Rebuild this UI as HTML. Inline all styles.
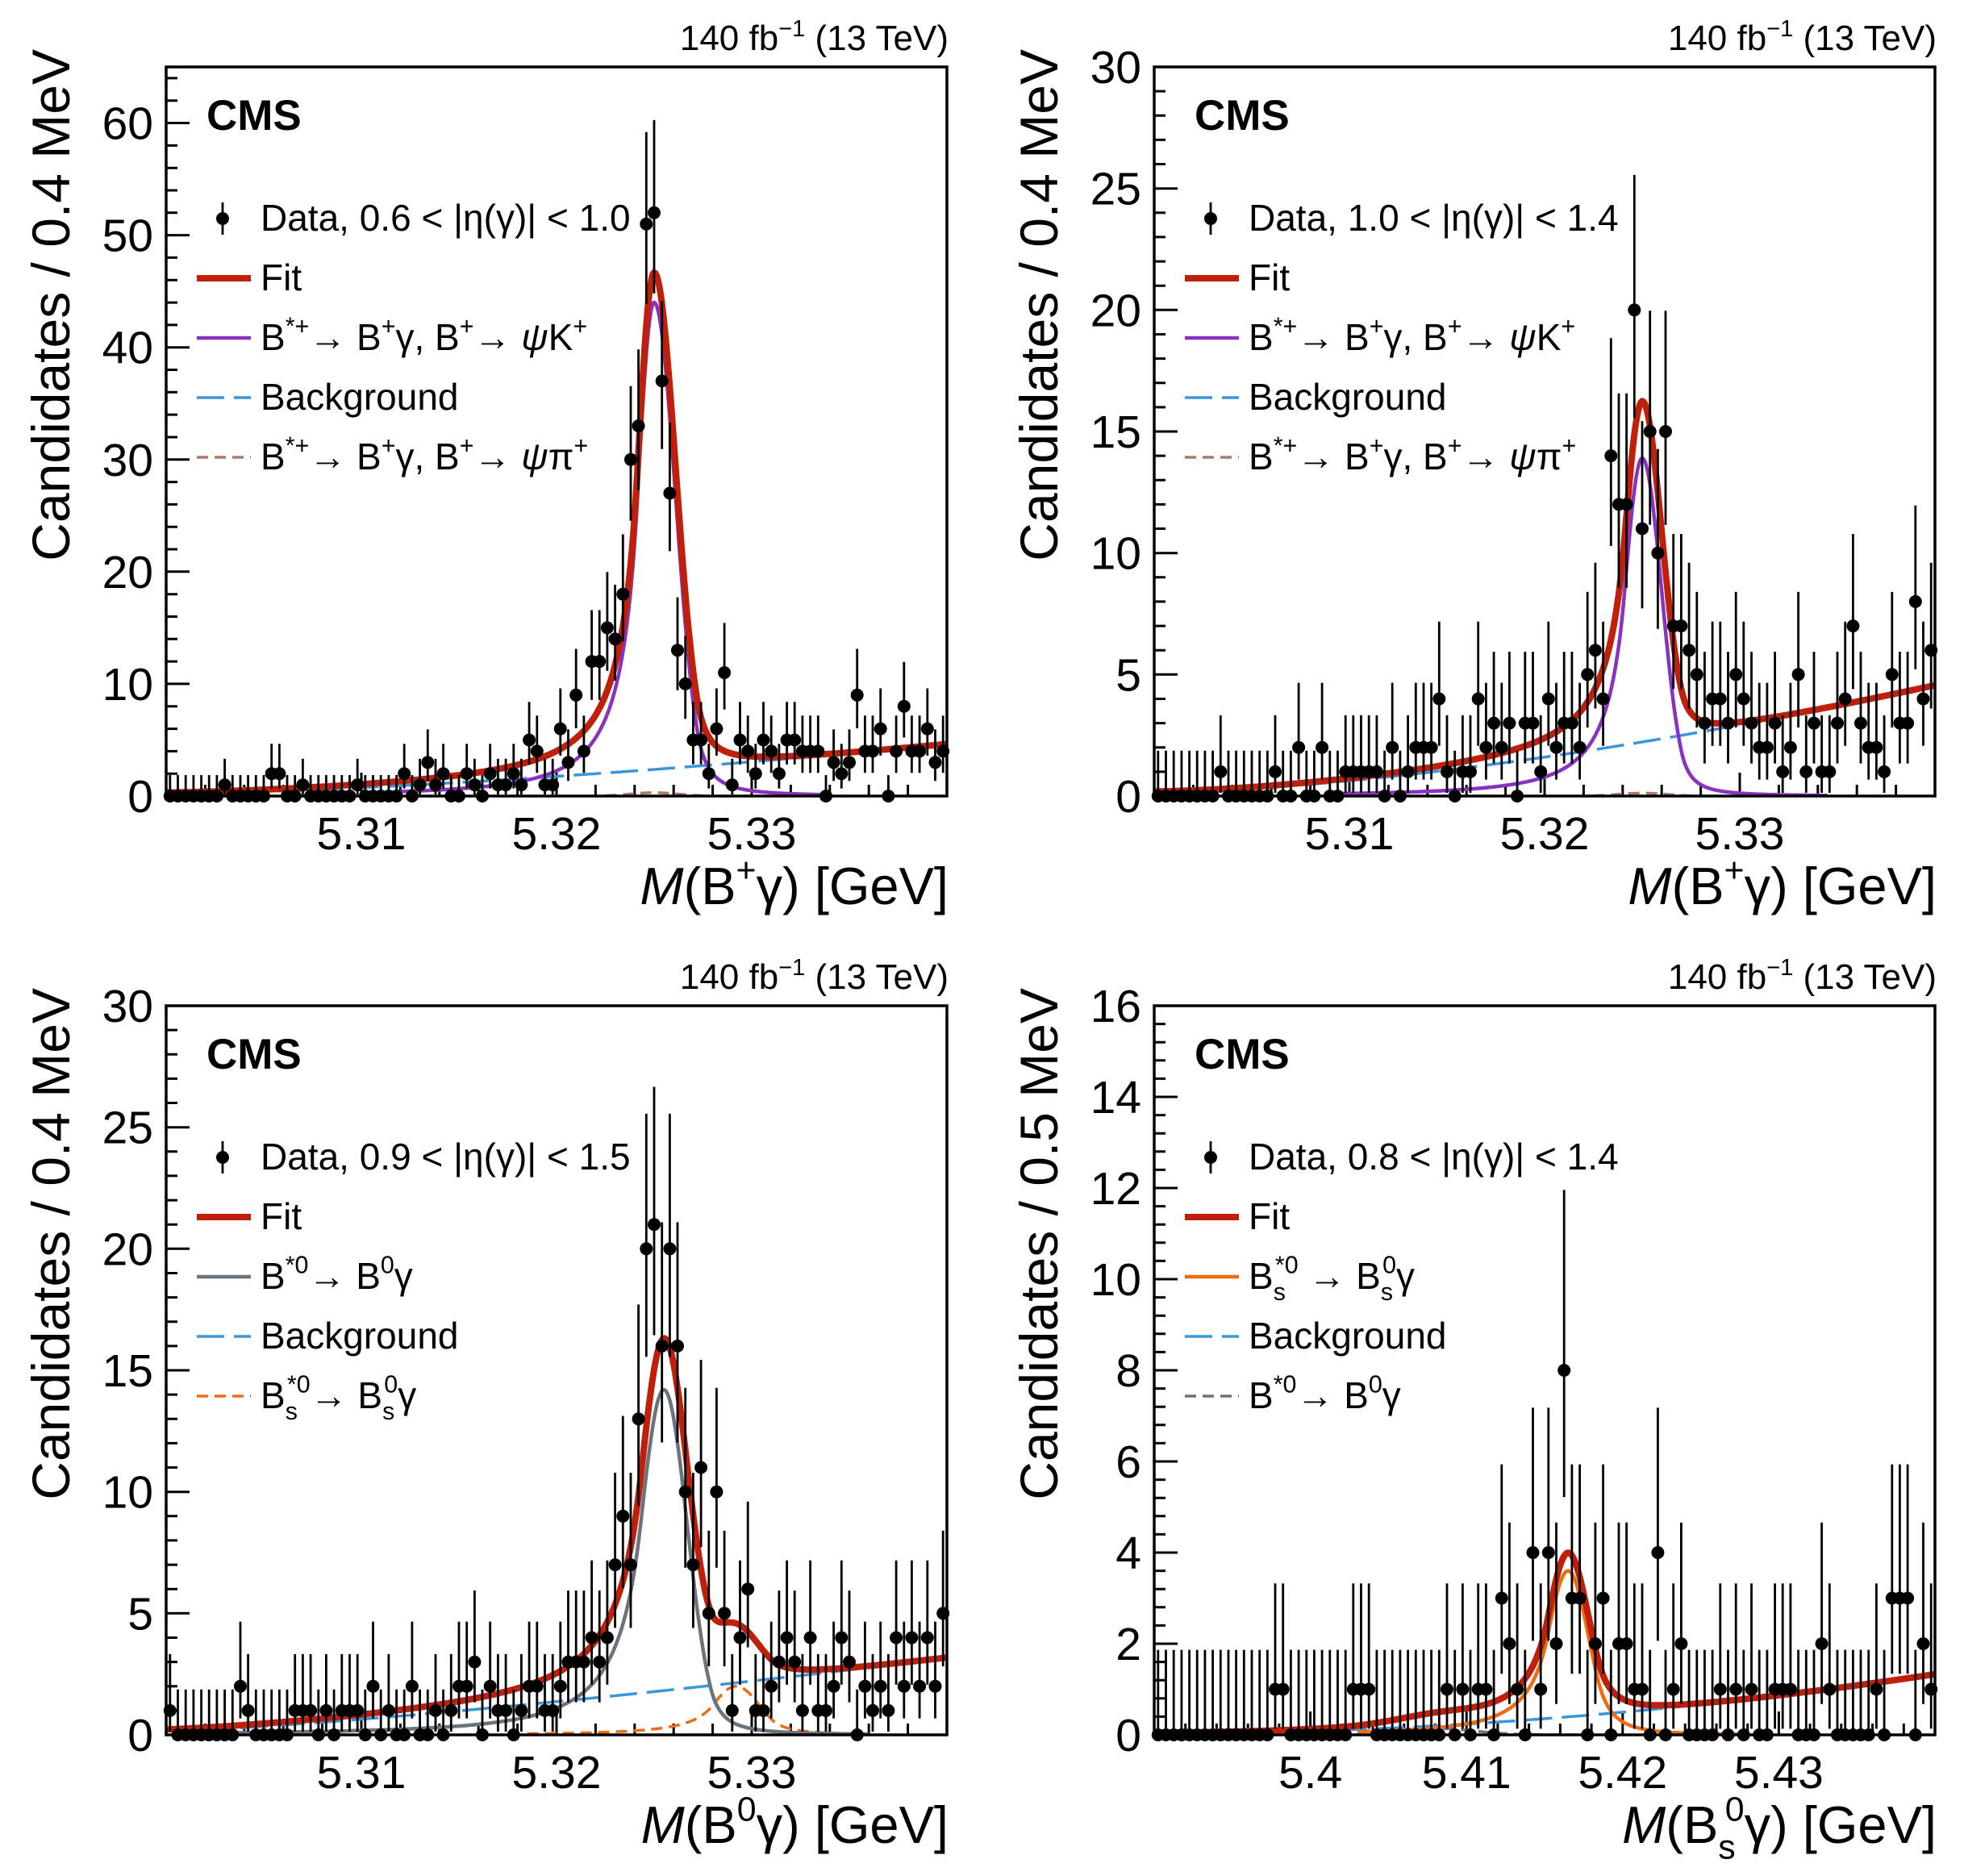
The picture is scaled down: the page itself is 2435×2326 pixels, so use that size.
<!DOCTYPE html>
<html><head><meta charset="utf-8">
<style>html,body{margin:0;padding:0;background:#fff}svg{display:block}</style>
</head><body>
<svg id="s" xmlns="http://www.w3.org/2000/svg" width="2435" height="2326" viewBox="0 0 2435 2326" font-family="'Liberation Sans', Arial, sans-serif"></svg>
<script>
const W=968,H=904;
const RED='#c0200a',PUR='#8a32c0',BLU='#3a96dc',BRN='#b07868',GRY='#6b737c',ORG='#ef6c12';
function cb(x,p){const m=p.m;let t;
 if(x<m){t=(x-m)/p.sL; if(t<-p.aL){const A=Math.pow(p.nL/p.aL,p.nL)*Math.exp(-p.aL*p.aL/2),B=p.nL/p.aL-p.aL;return p.A*A*Math.pow(B-t,-p.nL);} }
 else{t=(x-m)/p.sR; if(t>p.aR){const A=Math.pow(p.nR/p.aR,p.nR)*Math.exp(-p.aR*p.aR/2),B=p.nR/p.aR-p.aR;return p.A*A*Math.pow(B+t,-p.nR);} }
 return p.A*Math.exp(-t*t/2);}
function arr(o,shift){const a=new Array(100).fill(0);for(const k in o){const i=+k+(shift||0);if(i<100)a[i]=o[k];}return a;}
function rich(parts,size){let cur=0,out='';for(const p of parts){const t=p[0],k=p[1]||'',dx=p[2];let off=0,fs=size,st='';
 if(k.includes('sup')){off=-size*0.42;fs=size*0.66}
 if(k.includes('sub')){off=size*0.3;fs=size*0.66}
 if(k.includes('it'))st=' font-style="italic"';
 out+=`<tspan dy="${(off-cur).toFixed(1)}" font-size="${fs.toFixed(1)}"${dx!==undefined?` dx="${dx}"`:''}${st}>${t}</tspan>`;cur=off;}return out;}
const Bstp=[['B'],['*+','sup'],['→ B'],['+','sup'],['γ, B'],['+','sup'],['→ '],['ψ','it']];
const panels=[
{ox:206,oy:83,x0:5.30,x1:5.34,ymax:65,maj:10,min:2,xt:[5.31,5.32,5.33],ytitle:'Candidates / 0.4 MeV',
 xtitle:[['M','it'],['(B'],['+','sup'],['γ) [GeV]']],
 data:arr({7:1,13:2,14:2,17:1,24:1,30:2,32:1,33:3,34:1,35:2,38:2,39:1,41:2,42:1,43:1,44:2,45:1,46:5,47:4,48:1,49:1,50:6,51:3,52:9,53:4,54:12,55:12,56:15,57:14,58:18,59:30,60:33,61:51,62:52,63:37,64:27,65:13,66:10,67:5,68:5,69:2,70:6,71:11,72:1,73:5,74:4,75:2,76:5,77:4,78:2,79:5,80:5,81:4,82:4,83:4,85:3,86:2,87:3,88:9,89:4,90:4,91:6,93:4,94:8,95:4,96:4,97:6,98:3,99:4}),
 bg:x=>{const t=(x-5.30)/0.04;return 0.2+4.4*Math.pow(t,1.5)},
 sig:{m:5.3250,sL:0.00085,sR:0.0011,aL:1,nL:2,aR:2,nR:2,A:44},sigR:[5.312,5.3335],sigC:PUR,
 ext:{f:x=>0.3*Math.exp(-0.5*Math.pow((x-5.325)/0.0012,2)),r:[5.3225,5.3275],c:BRN},
 leg:[[['Data, 0.6 &lt; |η(γ)| &lt; 1.0']],[['Fit']],Bstp.concat([['K'],['+','sup']]),[['Background']],Bstp.concat([['π'],['+','sup']])],
 legStyle:[PUR,false,BRN,true]},
{ox:1431,oy:83,x0:5.30,x1:5.34,ymax:30,maj:5,min:1,xt:[5.31,5.32,5.33],ytitle:'Candidates / 0.4 MeV',
 xtitle:[['M','it'],['(B'],['+','sup'],['γ) [GeV]']],
 data:arr({7:1,14:1,17:2,20:2,23:1,24:1,25:1,26:1,27:1,29:2,31:1,32:2,33:2,34:2,35:4,36:1,38:1,39:1,40:4,41:2,42:3,43:2,44:3,46:3,47:3,48:1,49:4,50:2,51:3,52:3,53:2,54:5,55:6,56:4,57:14,58:12,59:12,60:20,61:11,62:15,63:10,64:15,65:7,66:7,67:6,68:5,69:3,70:4,71:4,72:3,73:5,74:4,75:3,76:2,77:2,78:3,79:1,80:2,81:5,82:1,83:3,84:1,85:1,86:3,87:4,88:7,89:3,90:2,91:2,92:1,93:5,94:3,95:3,96:8,97:4,98:6},1),
 bg:x=>{const t=(x-5.30)/0.04;return 0.15+4.4*Math.pow(t,1.6)},
 sig:{m:5.3250,sL:0.0009,sR:0.001,aL:1,nL:2,aR:2,nR:2,A:13.9},sigR:[5.3095,5.3345],sigC:PUR,
 ext:{f:x=>0.12*Math.exp(-0.5*Math.pow((x-5.325)/0.0012,2)),r:[5.3225,5.3275],c:BRN},
 leg:[[['Data, 1.0 &lt; |η(γ)| &lt; 1.4']],[['Fit']],Bstp.concat([['K'],['+','sup']]),[['Background']],Bstp.concat([['π'],['+','sup']])],
 legStyle:[PUR,false,BRN,true]},
{ox:206,oy:1247,x0:5.30,x1:5.34,ymax:30,maj:5,min:1,xt:[5.31,5.32,5.33],ytitle:'Candidates / 0.4 MeV',
 xtitle:[['M','it'],['(B'],['0','sup'],['γ) [GeV]']],
 data:arr({0:1,9:2,10:1,16:1,17:1,18:1,20:1,22:1,23:1,24:1,26:2,28:1,31:2,34:1,36:1,37:2,38:2,39:3,41:2,42:1,43:1,45:1,46:2,47:2,48:1,49:1,50:2,51:3,52:3,53:3,54:4,55:3,56:4,57:7,58:9,59:7,60:13,61:20,62:21,63:16,64:20,65:16,66:10,67:7,68:11,69:5,70:10,71:5,72:1,73:4,74:6,75:1,76:1,77:2,78:3,79:4,80:3,81:1,82:4,83:1,84:1,85:2,86:4,87:3,89:2,90:1,91:2,92:1,93:4,94:2,95:4,96:2,97:4,98:2,99:5}),
 bg:x=>{const t=(x-5.30)/0.04;return 0.15+3.0*Math.pow(t,1.3)},
 sig:{m:5.3255,sL:0.0012,sR:0.0012,aL:1,nL:2,aR:2,nR:2,A:14.2},sigR:[5.3035,5.3360],sigC:GRY,
 ext:{f:x=>cb(x,{m:5.3292,sL:0.0012,sR:0.0012,aL:1,nL:2,aR:1.5,nR:2,A:2.0}),r:[5.3185,5.3345],c:ORG},
 leg:[[['Data, 0.9 &lt; |η(γ)| &lt; 1.5']],[['Fit']],[['B'],['*0','sup'],['→ B'],['0','sup'],['γ']],[['Background']],[['B'],['s','sub'],['*0','sup',-13],['→ B'],['s','sub'],['0','sup',-13],['γ']]],
 legStyle:[GRY,false,ORG,true]},
{ox:1431,oy:1247,x0:5.39,x1:5.44,ymax:16,maj:2,min:0.4,xt:[5.40,5.41,5.42,5.43],xtl:['5.4','5.41','5.42','5.43'],ytitle:'Candidates / 0.5 MeV',
 xtitle:[['M','it'],['(B'],['s','sub'],['0','sup',-13],['γ) [GeV]']],
 data:arr({15:1,16:1,25:1,26:1,27:1,37:1,39:1,41:1,42:1,44:3,45:2,46:1,48:4,49:1,50:4,51:2,52:8,53:3,54:3,56:2,57:3,59:2,60:2,61:1,62:1,64:4,66:1,67:2,72:1,74:1,76:1,79:1,80:1,81:1,85:2,86:1,92:1,94:3,95:3,96:3,98:2,99:1}),
 bg:x=>{const t=(x-5.39)/0.05;return 0.03+1.3*Math.pow(t,2)},
 sig:{m:5.4165,sL:0.0013,sR:0.0013,aL:1,nL:2,aR:1.5,nR:3,A:3.6},sigR:[5.403,5.4275],sigC:ORG,
 ext:{f:x=>0.14*Math.exp(-0.5*Math.pow((x-5.408)/0.0025,2)),r:[5.404,5.418],c:GRY},
 leg:[[['Data, 0.8 &lt; |η(γ)| &lt; 1.4']],[['Fit']],[['B'],['s','sub'],['*0','sup',-13],[' → B'],['s','sub'],['0','sup',-13],['γ']],[['Background']],[['B'],['*0','sup'],['→ B'],['0','sup'],['γ']]],
 legStyle:[ORG,false,GRY,true]}
];
let out='';
panels.forEach((P,pi)=>{
 const L=P.ox,T=P.oy,R=L+W,B=T+H;
 const X=x=>L+(x-P.x0)/(P.x1-P.x0)*W, Y=y=>B-y/P.ymax*H;
 out+=`<clipPath id="c${pi}"><rect x="${L}" y="${T}" width="${W}" height="${H}"/></clipPath>`;
 let tk='';
 for(let v=0;v<=P.ymax+1e-9;v+=P.min){const y=Y(v);const maj=Math.abs(v/P.maj-Math.round(v/P.maj))<1e-6;tk+=`M${L} ${y.toFixed(1)}h${maj?29:14}`;
  if(maj)out+=`<text x="${L-16}" y="${(y+20).toFixed(1)}" font-size="57" text-anchor="end">${Math.round(v)}</text>`;}
 const nx=Math.round((P.x1-P.x0)/0.002);
 for(let j=1;j<nx;j++){const x=X(P.x0+j*0.002);const maj=j%5==0;tk+=`M${x.toFixed(1)} ${B}v-${maj?29:14}`;}
 out+=`<path d="${tk}" stroke="#000" stroke-width="3" fill="none"/>`;
 P.xt.forEach((v,k)=>{out+=`<text x="${X(v).toFixed(1)}" y="${B+66}" font-size="57" text-anchor="middle">${P.xtl?P.xtl[k]:v.toFixed(2)}</text>`;});
 out+=`<text transform="translate(${L-120},${T-22}) rotate(-90)" font-size="66" text-anchor="end">${P.ytitle}</text>`;
 out+=`<text x="${R+2}" y="${B+134}" font-size="65" text-anchor="end">${rich(P.xtitle,65)}</text>`;
 out+=`<text x="${R+2}" y="${T-21}" font-size="44" text-anchor="end">140 fb<tspan dy="-17" font-size="29">−1</tspan><tspan dy="17"> (13 TeV)</tspan></text>`;
 out+=`<text x="${L+50}" y="${T+78}" font-size="53" font-weight="bold">CMS</text>`;
 const path=(f,a,b)=>{let d='';const n=600;for(let k=0;k<=n;k++){const x=a+(b-a)*k/n;d+=(k?'L':'M')+X(x).toFixed(1)+' '+Y(f(x)).toFixed(1);}return d;};
 let cv=`<g clip-path="url(#c${pi})" fill="none">`;
 cv+=`<path d="${path(P.bg,P.x0,P.x1)}" stroke="${BLU}" stroke-width="3.5" stroke-dasharray="34 12"/>`;
 cv+=`<path d="${path(P.ext.f,P.ext.r[0],P.ext.r[1])}" stroke="${P.ext.c}" stroke-width="3.5" stroke-dasharray="14 8"/>`;
 cv+=`<path d="${path(x=>cb(x,P.sig),P.sigR[0],P.sigR[1])}" stroke="${P.sigC}" stroke-width="4.5"/>`;
 const fit=x=>P.bg(x)+cb(x,P.sig)+P.ext.f(x);
 cv+=`<path d="${path(fit,P.x0,P.x1)}" stroke="${RED}" stroke-width="8"/>`;
 cv+='</g>';out+=cv;
 let eb='',dots='';
 const bw=(P.x1-P.x0)/100;
 P.data.forEach((n,i)=>{const x=X(P.x0+(i+0.5)*bw);const hi=n+1+Math.sqrt(n+0.75);const lo=n>0?Math.max(0,n-Math.sqrt(n-0.25)):0;
  eb+=`M${x.toFixed(1)} ${Y(lo).toFixed(1)}V${Y(hi).toFixed(1)}`;dots+=`<circle cx="${x.toFixed(1)}" cy="${Y(n).toFixed(1)}" r="8"/>`;});
 out+=`<path d="${eb}" stroke="#000" stroke-width="2.8"/><g fill="#000">${dots}</g>`;
 out+=`<rect x="${L}" y="${T}" width="${W}" height="${H}" fill="none" stroke="#000" stroke-width="3.5"/>`;
 const lx=L+117;const rows=[203,277,351,425,499];
 P.leg.forEach((it,k)=>{const by=T+rows[k],cy=by-15;
  if(k==0){out+=`<line x1="${L+70}" x2="${L+70}" y1="${cy-20}" y2="${cy+20}" stroke="#000" stroke-width="2.8"/><circle cx="${L+70}" cy="${cy}" r="8"/>`;}
  else if(k==1){out+=`<line x1="${L+38}" x2="${L+105}" y1="${cy}" y2="${cy}" stroke="${RED}" stroke-width="8"/>`;}
  else if(k==2){out+=`<line x1="${L+38}" x2="${L+105}" y1="${cy}" y2="${cy}" stroke="${P.legStyle[0]}" stroke-width="4.5"/>`;}
  else if(k==3){out+=`<line x1="${L+38}" x2="${L+105}" y1="${cy}" y2="${cy}" stroke="${BLU}" stroke-width="3.5" stroke-dasharray="34 12"/>`;}
  else {out+=`<line x1="${L+38}" x2="${L+105}" y1="${cy}" y2="${cy}" stroke="${P.legStyle[2]}" stroke-width="3.5" stroke-dasharray="14 8"/>`;}
  out+=`<text x="${lx}" y="${by}" font-size="46">${rich(it,46)}</text>`;});
});
document.getElementById('s').innerHTML=out;
</script>
</body></html>
